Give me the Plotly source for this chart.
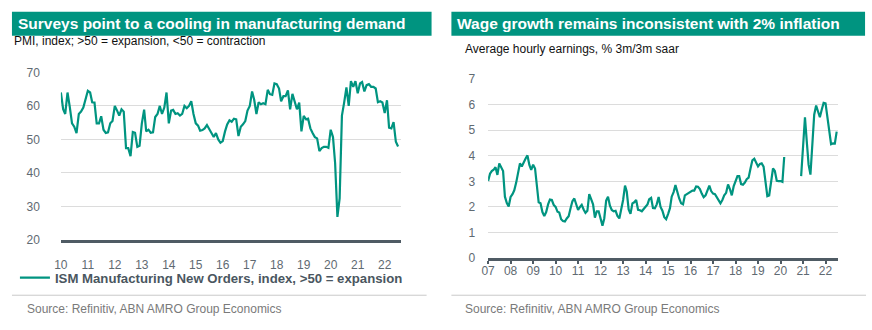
import pandas as pd
import plotly.graph_objects as go

# ISM Manufacturing New Orders index, monthly, Jan 2010 - Jul 2022
ism_start = "2010-01-01"
ism_new_orders = [
    64.0, 59.0, 57.6, 64.0, 59.8, 54.8, 53.8, 51.9, 57.6, 58.3, 59.5, 62.0,   # 2010
    64.5, 64.0, 61.1, 61.0, 54.8, 54.8, 56.9, 52.9, 51.9, 52.1, 54.8, 55.5,   # 2011
    60.0, 58.6, 57.1, 59.0, 58.3, 47.4, 47.4, 45.0, 52.2, 52.0, 47.8, 48.1,   # 2012
    54.8, 58.9, 52.4, 52.9, 52.0, 52.1, 56.7, 57.6, 60.0, 57.6, 59.5, 64.0,   # 2013
    54.8, 58.6, 58.8, 57.6, 57.8, 57.1, 57.6, 60.0, 59.3, 60.0, 61.4, 57.6,   # 2014
    54.8, 54.1, 52.6, 52.8, 53.3, 54.3, 53.0, 51.7, 50.7, 51.9, 50.0, 49.0,   # 2015
    49.5, 52.4, 54.5, 55.7, 55.3, 56.2, 56.0, 51.0, 53.8, 54.5, 55.5, 58.6,   # 2016
    60.0, 64.3, 61.9, 57.6, 61.1, 60.5, 60.8, 60.5, 64.8, 63.5, 63.3, 66.7,   # 2017
    66.5, 65.2, 61.4, 62.9, 62.9, 64.6, 59.0, 63.6, 61.1, 59.0, 61.0, 52.4,   # 2018
    57.0, 56.0, 56.2, 53.3, 51.9, 50.7, 50.3, 46.5, 47.4, 47.8, 47.8, 47.5,   # 2019
    52.9, 50.7, 42.9, 26.9, 32.4, 57.1, 61.0, 65.5, 60.0, 67.4, 65.7, 67.4,   # 2020
    63.8, 66.7, 67.1, 64.3, 66.2, 66.5, 65.7, 65.7, 65.2, 61.1, 61.4, 61.0,   # 2021
    57.9, 61.7, 53.5, 53.3, 55.2, 49.3, 47.9,                                 # 2022
]

# Average hourly earnings, % 3m/3m saar, monthly, Jan 2007 - Jul 2022
ahe_start = "2007-01-01"
ahe_growth = [
    3.01, 3.30, 3.40, 3.45, 3.55, 3.25, 3.70, 3.57, 3.40, 2.40, 2.15, 2.02,   # 2007
    2.39, 2.50, 2.65, 2.95, 3.30, 3.70, 3.58, 3.75, 3.89, 4.01, 3.64, 3.45,   # 2008
    3.65, 3.50, 2.90, 2.18, 2.14, 1.80, 1.64, 1.80, 2.10, 2.29, 2.27, 2.08,   # 2009
    2.00, 1.81, 1.78, 1.52, 1.45, 1.43, 1.55, 1.64, 1.95, 2.22, 2.33, 2.10,   # 2010
    1.88, 2.00, 2.08, 1.90, 1.77, 1.85, 2.50, 2.30, 2.10, 1.58, 1.83, 1.83,   # 2011
    1.50, 1.27, 1.55, 2.25, 2.40, 2.05, 1.88, 1.83, 1.85, 1.65, 1.55, 1.90,   # 2012
    2.27, 2.83, 2.60, 1.90, 1.73, 2.14, 2.18, 2.27, 1.89, 1.87, 1.83, 1.92,   # 2013
    2.00, 2.10, 2.30, 2.35, 1.96, 1.95, 2.10, 2.39, 2.00, 1.85, 1.60, 1.52,   # 2014
    1.72, 1.95, 2.40, 2.58, 2.85, 2.55, 2.33, 2.14, 2.10, 2.45, 2.50, 2.55,   # 2015
    2.60, 2.64, 2.64, 2.80, 2.79, 2.70, 2.52, 2.38, 2.45, 2.64, 2.83, 2.62,   # 2016
    2.52, 2.50, 2.40, 2.26, 2.14, 2.27, 2.45, 2.55, 2.88, 2.70, 2.45, 2.80,   # 2017
    3.01, 3.20, 3.20, 2.89, 2.87, 2.95, 3.08, 3.14, 3.50, 3.82, 3.88, 3.75,   # 2018
    3.58, 3.68, 3.70, 3.57, 3.05, 2.42, 2.45, 2.95, 3.50, 3.40, 3.02, 3.01,   # 2019
    3.01, 2.98, 3.95, None, None, None, None, None, None, None, None, 3.20,   # 2020
    4.40, 5.50, 4.60, 3.65, 3.26, 4.70, 5.60, 5.96, 5.70, 5.50, 5.80, 6.06,   # 2021
    6.04, 5.45, 5.05, 4.45, 4.48, 4.47, 4.94,                                 # 2022
]

left_title = "Surveys point to a cooling in manufacturing demand"
left_subtitle = "PMI, index; >50 = expansion, <50 = contraction"
left_series_name = "ISM Manufacturing New Orders, index, >50 = expansion"
right_title = "Wage growth remains inconsistent with 2% inflation"
right_subtitle = "Average hourly earnings, % 3m/3m saar"
source_text = "Source: Refinitiv, ABN AMRO Group Economics"

W, H = 872, 330
GREEN = "#009480"
AXIS = "#4f5b64"
FONT = "Liberation Sans, Arial, sans-serif"
TICKFONT = dict(family=FONT, size=12, color="#5f6a72")
GRID = "#dcdcdc"

ism_dates = pd.date_range(ism_start, periods=len(ism_new_orders), freq="MS")
ahe_dates = pd.date_range(ahe_start, periods=len(ahe_growth), freq="MS")
ism_range = ["2010-01-01", "2022-08-03"]
ahe_range = ["2007-01-01", "2022-07-22"]


def px_x(p):
    return p / W


def px_y(p):
    return 1 - p / H


fig = go.Figure()
fig.add_trace(go.Scatter(
    x=ism_dates, y=ism_new_orders, mode="lines", name=left_series_name,
    line=dict(color=GREEN, width=2.2), xaxis="x", yaxis="y", showlegend=True,
))
fig.add_trace(go.Scatter(
    x=ahe_dates, y=ahe_growth, mode="lines", name="AHE",
    line=dict(color=GREEN, width=2.2), xaxis="x2", yaxis="y2",
    showlegend=False, connectgaps=False,
))

xaxis_common = dict(
    type="date", tickformat="%y", dtick="M12", showgrid=False,
    showline=True, linecolor=AXIS, linewidth=2.5,
    ticks="outside", tickwidth=1.5,
    tickfont=TICKFONT, zeroline=False, fixedrange=True,
)
yaxis_common = dict(
    showgrid=True, gridcolor=GRID, gridwidth=1, zeroline=False,
    showline=False, ticks="", tickfont=TICKFONT, fixedrange=True,
)
left_xdomain = [px_x(54.3), px_x(396.7)]

fig.update_layout(
    width=W, height=H, margin=dict(l=0, r=0, t=0, b=0),
    paper_bgcolor="white", plot_bgcolor="white",
    # left x-axis: long transparent ticks space the labels from the line
    xaxis=dict(**xaxis_common, domain=left_xdomain,
               tick0="2010-01-01", range=ism_range,
               anchor="y", ticklen=12, tickcolor="rgba(0,0,0,0)"),
    yaxis=dict(**yaxis_common, domain=[px_y(243.3), px_y(68.3)],
               range=[20, 70], dtick=10, anchor="x", ticklabelstandoff=20),
    xaxis2=dict(**xaxis_common, domain=[px_x(485), px_x(837.7)],
                tick0="2007-01-01", range=ahe_range,
                anchor="y2", ticklen=3, tickcolor=AXIS, ticklabelstandoff=-3),
    yaxis2=dict(**yaxis_common, domain=[px_y(262.3), px_y(75)],
                range=[0, 7], dtick=1, anchor="x2", ticklabelstandoff=12),
    legend=dict(
        x=px_x(8), y=px_y(283), xanchor="left", yanchor="middle",
        orientation="h", itemwidth=30,
        font=dict(family=FONT, size=13.2, color="#4a5660", weight="bold"),
        bgcolor="rgba(0,0,0,0)",
    ),
    showlegend=True,
)

shapes = []
annotations = []
panels = [
    dict(x0=5, x1=428, title=left_title, subtitle=left_subtitle,
         sub_x=5, sub_y=36, src_x=18, sep_x1=423),
    dict(x0=448, x1=865, title=right_title, subtitle=right_subtitle,
         sub_x=460, sub_y=44, src_x=460, sep_x1=866),
]
for p in panels:
    # title bar
    shapes.append(dict(type="rect", xref="paper", yref="paper",
                       x0=px_x(p["x0"]), x1=px_x(p["x1"]), y0=px_y(30), y1=px_y(5),
                       fillcolor=GREEN, line=dict(width=0), layer="below"))
    annotations.append(dict(
        text=p["title"], xref="paper", yref="paper", x=px_x(p["x0"] + 4), y=px_y(17.5),
        xanchor="left", yanchor="middle", showarrow=False,
        font=dict(family=FONT, size=15.5, color="white", weight="bold"),
    ))
    annotations.append(dict(
        text=p["subtitle"], xref="paper", yref="paper",
        x=px_x(p["sub_x"]), y=px_y(p["sub_y"]),
        xanchor="left", yanchor="middle", showarrow=False,
        font=dict(family=FONT, size=12, color="#111111"),
    ))
    # footer separator and source
    shapes.append(dict(type="line", xref="paper", yref="paper",
                       x0=px_x(p["x0"]), x1=px_x(p["sep_x1"]),
                       y0=px_y(301), y1=px_y(301),
                       line=dict(color="#c9c9c9", width=1)))
    annotations.append(dict(
        text=source_text, xref="paper", yref="paper",
        x=px_x(p["src_x"]), y=px_y(315.5),
        xanchor="left", yanchor="middle", showarrow=False,
        font=dict(family=FONT, size=12, color="#7a7a7a"),
    ))

fig.update_layout(shapes=shapes, annotations=annotations)
fig.write_html("out.html")
